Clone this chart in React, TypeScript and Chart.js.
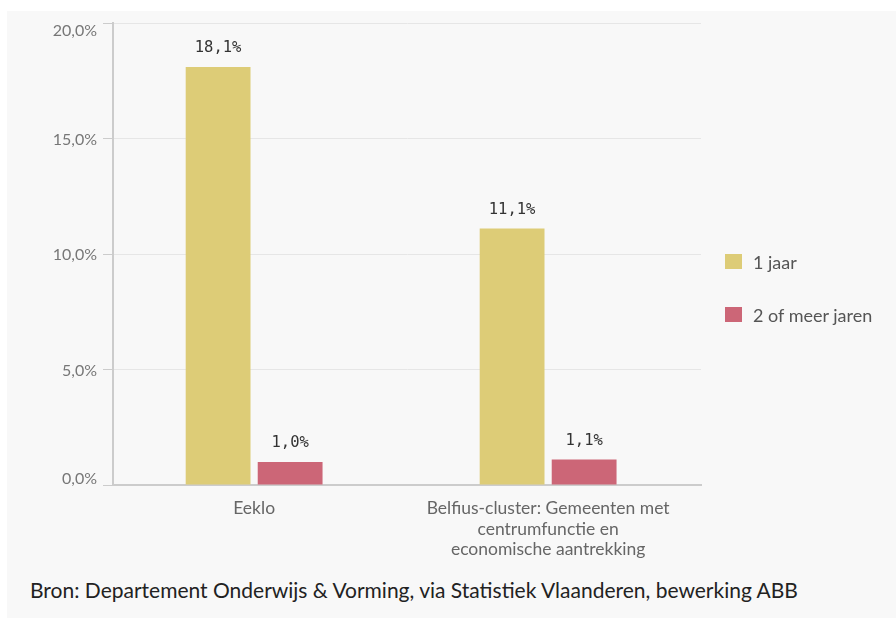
import React, { useEffect, useRef } from "react";
import { Chart, registerables } from "chart.js";

Chart.register(...registerables);

const categories: (string | string[])[] = [
  "Eeklo",
  ["Belfius-cluster: Gemeenten met", "centrumfunctie en", "economische aantrekking"],
];
const seriesNames = ["1 jaar", "2 of meer jaren"];
const oneYear = [18.1, 11.1];
const twoPlus = [1.0, 1.1];
const seriesColors = ["#DDCC77", "#CC6677"];
const yTicks = [0, 5, 10, 15, 20];
const sourceText = "Bron: Departement Onderwijs & Vorming, via Statistiek Vlaanderen, bewerking ABB";

const fmt = (v: number) => v.toFixed(1).replace(".", ",") + "%";

const FONT = "Lato, 'Open Sans', sans-serif";

const valueLabels = {
  id: "valueLabels",
  afterDatasetsDraw(chart: any) {
    const ctx = chart.ctx;
    ctx.save();
    ctx.font = "15.5px 'DejaVu Sans Mono', monospace";
    ctx.fillStyle = "#333";
    ctx.textAlign = "center";
    ctx.textBaseline = "middle";
    chart.data.datasets.forEach((ds: any, di: number) => {
      const meta = chart.getDatasetMeta(di);
      meta.data.forEach((el: any, i: number) => {
        ctx.fillText(fmt(ds.data[i].y), el.x, el.y - 19);
      });
    });
    ctx.restore();
  },
};

// y tick labels, kept inside the plot area vertically
const yLabels = {
  id: "yLabels",
  afterDraw(chart: any) {
    const ctx = chart.ctx;
    const s = chart.scales.y;
    const area = chart.chartArea;
    ctx.save();
    ctx.font = "16px " + FONT;
    ctx.fillStyle = "#777";
    ctx.textAlign = "right";
    ctx.textBaseline = "middle";
    yTicks.forEach((v) => {
      const py = s.getPixelForValue(v) + 1;
      const y = Math.min(Math.max(py, area.top + 8), area.bottom - 6);
      ctx.fillText(fmt(v), area.left - 16, y);
    });
    ctx.restore();
  },
};

export default function App() {
  const ref = useRef<HTMLCanvasElement>(null);
  useEffect(() => {
    document.body.style.margin = "0";
    document.body.style.background = "#ffffff";
    const chart = new Chart(ref.current!, {
      type: "bar",
      data: {
        datasets: [
          {
            label: seriesNames[0],
            data: oneYear.map((v, i) => ({ x: i, y: v })),
            backgroundColor: seriesColors[0],
            borderWidth: 0,
          },
          {
            label: seriesNames[1],
            data: twoPlus.map((v, i) => ({ x: i, y: v })),
            backgroundColor: seriesColors[1],
            borderWidth: 0,
          },
        ],
      },
      options: {
        animation: false,
        responsive: false,
        layout: { padding: { left: 0, top: 23, right: 195, bottom: 0 } },
        plugins: { legend: { display: false }, tooltip: { enabled: false } },
        datasets: { bar: { categoryPercentage: 0.49, barPercentage: 0.9 } },
        scales: {
          x: {
            type: "linear",
            min: -0.48,
            max: 1.52,
            offset: false,
            grid: { display: false },
            border: { color: "#cccccc", width: 2 },
            afterBuildTicks: (s: any) => {
              s.ticks = categories.map((_, i) => ({ value: i }));
            },
            ticks: {
              color: "#666",
              font: { family: FONT, size: 17.5, lineHeight: 1.18 },
              padding: 5,
              maxRotation: 0,
              autoSkip: false,
              callback: (v: any) => categories[Number(v)],
            },
            afterFit: (s: any) => {
              s.height = 85;
            },
          },
          y: {
            min: 0,
            max: 20,
            afterBuildTicks: (s: any) => {
              s.ticks = yTicks.map((v) => ({ value: v }));
            },
            grid: { color: "#e6e6e6", lineWidth: 1, tickColor: "#cccccc", tickLength: 10, tickWidth: 1 },
            border: { color: "#cccccc", width: 2 },
            ticks: { display: false },
            afterFit: (s: any) => {
              s.width = 113;
            },
          },
        },
      },
      plugins: [valueLabels, yLabels],
    });
    return () => chart.destroy();
  }, []);

  return (
    <div style={{ position: "relative", width: 896, height: 618, background: "#fff", fontFamily: FONT }}>
      <div style={{ position: "absolute", left: 7, top: 11, width: 889, height: 607, background: "#f8f8f8" }} />
      <canvas ref={ref} width={896} height={570} style={{ position: "absolute", left: 0, top: 0, width: 896, height: 570 }} />
      {seriesNames.map((n, i) => (
        <div key={n} style={{ position: "absolute", left: 725, top: 254 + i * 53, height: 15, display: "flex", alignItems: "center" }}>
          <div style={{ width: 17, height: 15, background: seriesColors[i] }} />
          <span style={{ marginLeft: 11, fontSize: 18, color: "#555", whiteSpace: "nowrap" }}>{n}</span>
        </div>
      ))}
      <div style={{ position: "absolute", left: 30, top: 577, fontSize: 21, color: "#222", whiteSpace: "nowrap", lineHeight: "26px" }}>
        {sourceText}
      </div>
    </div>
  );
}
